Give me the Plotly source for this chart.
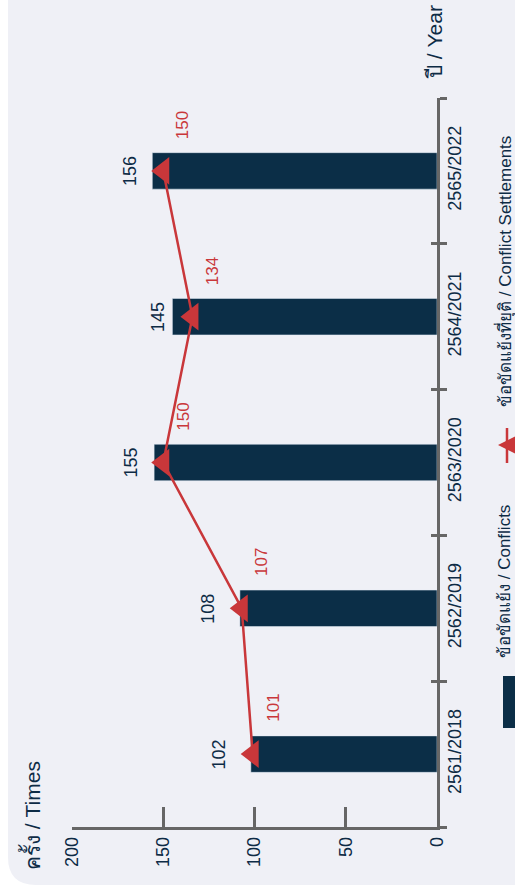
import plotly.graph_objects as go

categories = ["2561/2018", "2562/2019", "2563/2020", "2564/2021", "2565/2022"]
conflicts = [102, 108, 155, 145, 156]
settlements = [101, 107, 150, 134, 150]
value_ticks = [0, 50, 100, 150, 200]

W, H = 515, 887
L, R, T, B = 72, 78, 98, 60


def px(x):
    return (x - L) / (W - L - R)


def py(y):
    return (H - B - y) / (H - T - B)


NAVY = "#0b2e47"
RED = "#c9373a"
BG = "#eff0f6"
TXT = "#0d2b45"
AX = "#666666"
FONT = "Liberation Sans, Arial, Noto Sans, sans-serif"

fig = go.Figure()
fig.add_trace(go.Bar(y=categories, x=conflicts, orientation="h", marker_color=NAVY,
                     width=0.25, hoverinfo="skip"))
fig.add_trace(go.Scatter(y=categories, x=settlements, mode="lines+markers",
                         line=dict(color=RED, width=2.5),
                         marker=dict(symbol="triangle-left", size=24, color=RED),
                         hoverinfo="skip"))
fig.add_trace(go.Scatter(y=categories, x=conflicts, yaxis="y2", mode="markers",
                         marker=dict(opacity=0), hoverinfo="skip"))

ann = []
for c, v, s in zip(categories, conflicts, settlements):
    ann.append(dict(x=max(v, s + 10), y=c, xref="x", yref="y", text=str(v), showarrow=False,
                    textangle=-90, xshift=-15, xanchor="center", yanchor="middle",
                    font=dict(size=18, color=TXT, family=FONT)))
    ann.append(dict(x=s, y=c, xref="x", yref="y", text=str(s), showarrow=False,
                    textangle=-90, xshift=20, yshift=46, xanchor="center", yanchor="middle",
                    font=dict(size=17, color=RED, family=FONT)))


def label(x, y, text, size):
    return dict(x=px(x), y=py(y), xref="paper", yref="paper", text=text, showarrow=False,
                textangle=-90, xanchor="center", yanchor="middle",
                font=dict(size=size, color=TXT, family=FONT))


ann.append(label(435, 42, "ปี / Year", 21))
ann.append(label(31, 816, "ครั้ง / Times", 21))
ann.append(label(504, 582, "ข้อขัดแย้ง / Conflicts", 17))
ann.append(label(504, 272, "ข้อขัดแย้งที่ยุติ / Conflict Settlements", 17))

shapes = []
# background panel with rounded bottom-left corner
x0, x1, y0, y1, rr = 8, 530, -10, 885, 28
path = (f"M {px(x0)},{py(y0)} L {px(x0)},{py(y1 - rr)} Q {px(x0)},{py(y1)} {px(x0 + rr)},{py(y1)} "
        f"L {px(x1)},{py(y1)} L {px(x1)},{py(y0)} Z")
shapes.append(dict(type="path", path=path, xref="paper", yref="paper", fillcolor=BG,
                   line=dict(width=0), layer="below"))
# legend swatches
shapes.append(dict(type="rect", xref="paper", yref="paper", x0=px(503), x1=px(520), y0=py(728), y1=py(676),
                   fillcolor=NAVY, line=dict(width=0)))
shapes.append(dict(type="line", xref="paper", yref="paper", x0=px(507), x1=px(507), y0=py(463), y1=py(428),
                   line=dict(color=RED, width=2.5)))
tri = f"M {px(498)},{py(445)} L {px(516)},{py(436)} L {px(516)},{py(454)} Z"
shapes.append(dict(type="path", path=tri, xref="paper", yref="paper", fillcolor=RED, line=dict(width=0)))

fig.update_layout(
    width=W, height=H,
    margin=dict(l=L, r=R, t=T, b=B),
    paper_bgcolor="white", plot_bgcolor="rgba(0,0,0,0)",
    showlegend=False,
    font=dict(family=FONT, color=TXT),
    xaxis=dict(range=[200, 0], tickvals=value_ticks, ticks="inside", ticklen=20, tickwidth=2.5,
               tickcolor=AX, showline=True, linecolor=AX, linewidth=2.5, tickangle=-90,
               tickfont=dict(size=18, color=TXT), showgrid=False, zeroline=False, fixedrange=True),
    yaxis=dict(type="category", categoryorder="array", categoryarray=categories, range=[-0.5, 4.5],
               side="right", showline=True, linecolor=AX, linewidth=2.5, ticks="outside", ticklen=7,
               tickwidth=2.5, tickcolor=AX, tickson="boundaries", tickangle=-90,
               tickfont=dict(size=18, color=TXT), showgrid=False, zeroline=False),
    yaxis2=dict(type="category", categoryorder="array", categoryarray=categories, range=[-0.5, 4.5],
                overlaying="y", side="right", ticks="inside", ticklen=6, tickwidth=2.5, tickcolor=AX,
                tickson="boundaries", showticklabels=False, showline=False, showgrid=False, zeroline=False),
    annotations=ann, shapes=shapes,
)

fig.write_html("out.html", config={"displayModeBar": False},
               post_script="document.body.style.margin='0';document.body.style.overflow='hidden';"
                           "document.documentElement.style.overflow='hidden';")
